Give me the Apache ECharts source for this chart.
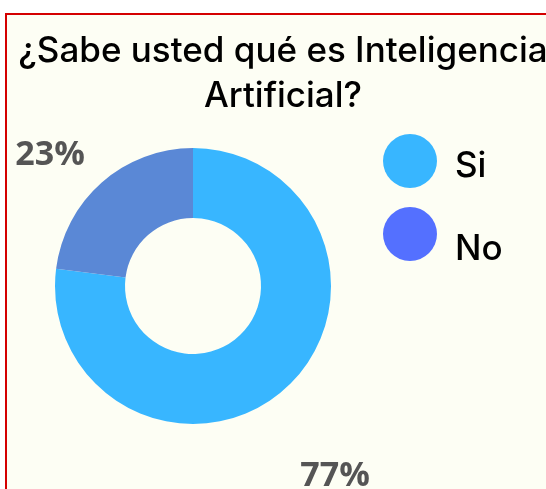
<!DOCTYPE html>
<html>
<head>
<meta charset="utf-8">
<script src="https://cdn.jsdelivr.net/npm/echarts@6/dist/echarts.min.js"></script>
<style>
    html, body {
        margin: 0;
        padding: 0;
        background: #ffffff;
        overflow: hidden;
    }
    .frame {
        position: absolute;
        left: 5px;
        top: 13px;
        width: 541px;
        height: 476px;
        border-left: 2px solid #d40000;
        border-top: 2px solid #d40000;
        background: #fdfef4;
    }
    .answer-chart {
        width: 541px;
        height: 476px;
    }
</style>
</head>
<body>
<div class="frame"><div class="answer-chart"></div></div>
<script>
// datos de la encuesta
const answers = ["Si", "No"];
const percents = [77, 23];
const sliceColors = ["#38b6ff", "#5a88d6"];
const legendColors = ["#38b6ff", "#5470ff"];

// posiciones de las etiquetas (texto)
const labelSpots = [[328, 461], [43, 140]];

let myChart = echarts.init(document.querySelector(".answer-chart"));

// el texto de la leyenda va un poco más abajo que el círculo
const legendDrop = [10, 30];

let option = {
    backgroundColor: "transparent",
    title: {
        text: "¿Sabe usted qué es Inteligencia\nArtificial?",
        left: 271,
        top: 9,
        textAlign: "center",
        textStyle: {
            fontFamily: "Inter",
            fontSize: 35,
            fontWeight: 500,
            lineHeight: 45,
            color: "#000000"
        }
    },
    legend: answers.map((name, i) => ({
        orient: "vertical",
        left: 371,
        top: i === 0 ? 114 : 187,
        icon: "circle",
        itemWidth: 54,
        itemHeight: 54,
        selectedMode: false,
        formatter: (n) => "{s|}\n" + n,
        textStyle: {
            fontFamily: "Inter",
            fontSize: 35,
            fontWeight: 500,
            color: "#000000",
            padding: [0, 0, 0, 13],
            rich: {
                s: { lineHeight: legendDrop[i], fontSize: 1 }
            }
        },
        data: [{ name: name, itemStyle: { color: legendColors[i] } }]
    })),
    series: [
        {
            type: "pie",
            center: [186, 271],
            radius: [68, 138],
            startAngle: 90,
            clockwise: true,
            silent: true,
            label: {
                show: true,
                position: "inside",
                overflow: "none",
                formatter: "{c}%",
                fontFamily: "Open Sans",
                fontWeight: "bold",
                fontSize: 34,
                color: "#555555"
            },
            labelLine: { show: false },
            labelLayout: (params) => ({
                x: labelSpots[params.dataIndex][0],
                y: labelSpots[params.dataIndex][1],
                align: "center",
                verticalAlign: "middle"
            }),
            data: answers.map((name, i) => ({
                name: name,
                value: percents[i],
                itemStyle: { color: sliceColors[i] }
            }))
        }
    ]
};

myChart.setOption(option);
</script>
</body>
</html>
